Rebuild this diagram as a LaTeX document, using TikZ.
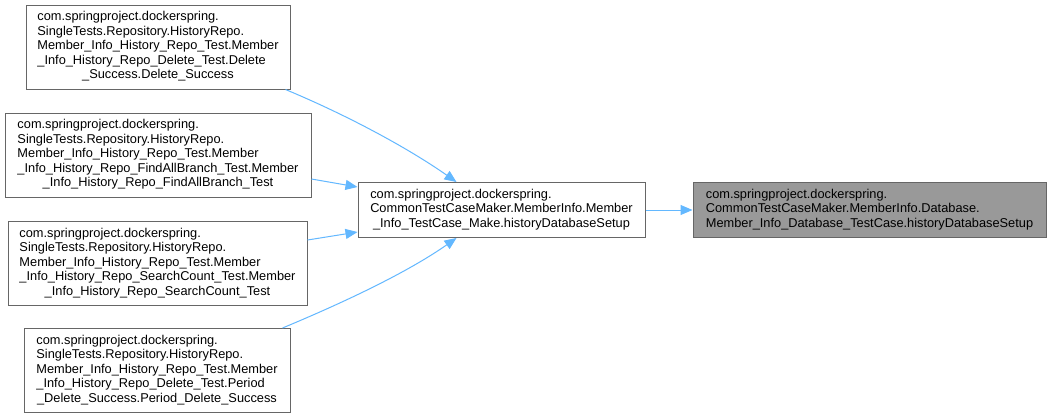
\documentclass[tikz,border=0pt]{standalone}
\usepackage{fontspec}
\setmainfont{Liberation Sans}
\usetikzlibrary{arrows.meta,calc}
\definecolor{edgeblue}{HTML}{63B8FF}
\definecolor{boxborder}{HTML}{666666}
\definecolor{rootfill}{HTML}{999999}
\newcommand{\mylabel}[2]{\begin{tabular}{@{}l@{}}#1\\\multicolumn{1}{@{}c@{}}{#2}\end{tabular}}
\tikzset{
  box/.style={draw=boxborder, fill=white, line width=0.75pt, inner sep=0pt,
    font=\fontsize{9.6pt}{10.9pt}\selectfont, text=black},
  rootbox/.style={box, fill=rootfill},
  edge/.style={draw=edgeblue, line width=0.75pt,
    -{Triangle[length=9pt,width=7.5pt]}}
}
\begin{document}
\begin{tikzpicture}[x=0.75pt,y=-0.75pt]
\fill[white] (0,0) rectangle (1051,419);
\useasboundingbox (0,0) rectangle (1051,419);

\node[box, minimum width=198pt, minimum height=63pt] (A) at (158,47)
  {\mylabel{com.springproject.dockerspring.\\SingleTests.Repository.HistoryRepo.\\Member\_Info\_History\_Repo\_Test.Member\\\_Info\_History\_Repo\_Delete\_Test.Delete}{\_Success.Delete\_Success}};
\node[box, minimum width=229.5pt, minimum height=63pt] (B) at (158,155)
  {\mylabel{com.springproject.dockerspring.\\SingleTests.Repository.HistoryRepo.\\Member\_Info\_History\_Repo\_Test.Member\\\_Info\_History\_Repo\_FindAllBranch\_Test.Member}{\_Info\_History\_Repo\_FindAllBranch\_Test}};
\node[box, minimum width=224.25pt, minimum height=63pt] (C) at (157.5,263.5)
  {\mylabel{com.springproject.dockerspring.\\SingleTests.Repository.HistoryRepo.\\Member\_Info\_History\_Repo\_Test.Member\\\_Info\_History\_Repo\_SearchCount\_Test.Member}{\_Info\_History\_Repo\_SearchCount\_Test}};
\node[box, minimum width=199.5pt, minimum height=63pt] (D) at (157,370.5)
  {\mylabel{com.springproject.dockerspring.\\SingleTests.Repository.HistoryRepo.\\Member\_Info\_History\_Repo\_Test.Member\\\_Info\_History\_Repo\_Delete\_Test.Period}{\_Delete\_Success.Period\_Delete\_Success}};
\node[box, minimum width=215.25pt, minimum height=41.25pt] (M) at (501.5,210)
  {\mylabel{com.springproject.dockerspring.\\CommonTestCaseMaker.MemberInfo.Member}{\_Info\_TestCase\_Make.historyDatabaseSetup}};
\node[rootbox, minimum width=264.75pt, minimum height=41.25pt] (R) at (869.5,210)
  {\mylabel{com.springproject.dockerspring.\\CommonTestCaseMaker.MemberInfo.Database.}{Member\_Info\_Database\_TestCase.historyDatabaseSetup}};

\draw[edge] (M.east) -- (R.west);
\draw[edge] ($(A.south east)+(-5,0)$) .. controls +(60,25) and +(-50,-35) .. ($(M.north west)+(99,0)$);
\draw[edge] ($(B.east)+(0,24)$) -- ($(M.west)+(0,-23)$);
\draw[edge] ($(C.east)+(0,-23.5)$) -- ($(M.west)+(0,22)$);
\draw[edge] ($(D.north east)+(-8,0)$) .. controls +(60,-25) and +(-50,35) .. ($(M.south west)+(99,0)$);
\end{tikzpicture}
\end{document}
